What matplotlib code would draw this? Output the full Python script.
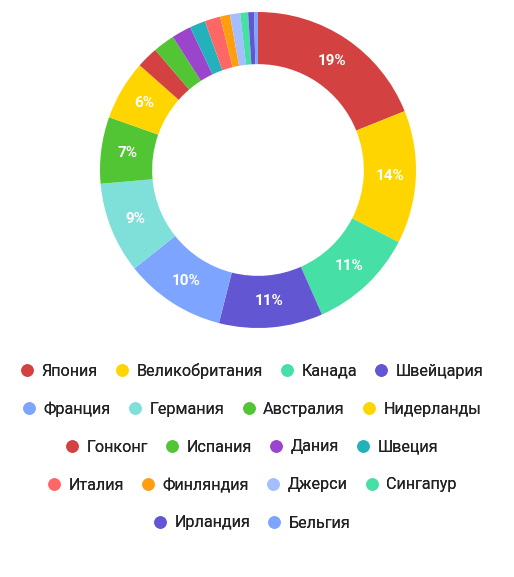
import matplotlib
matplotlib.use("Agg")
import matplotlib.pyplot as plt
from matplotlib.lines import Line2D

# data: share of each country, %
countries = ["Япония", "Великобритания", "Канада", "Швейцария",
             "Франция", "Германия", "Австралия", "Нидерланды",
             "Гонконг", "Испания", "Дания", "Швеция",
             "Италия", "Финляндия", "Джерси", "Сингапур",
             "Ирландия", "Бельгия"]
shares = [18.9, 13.6, 10.8, 10.6,
          10.3, 9.3, 6.8, 6.1,
          2.2, 2.2, 2.0, 1.6,
          1.6, 1.0, 1.05, 0.8,
          0.6, 0.4]
colors = ["#D44141", "#FFD500", "#46DFA5", "#6356D3",
          "#7DA4FF", "#7FE0DA", "#52C535", "#FFD500",
          "#D44141", "#52C535", "#9A45CB", "#23B1BC",
          "#FF6766", "#FF9F10", "#A5BEFF", "#46DFA5",
          "#6356D3", "#7DA4FF"]
legend_rows = [4, 4, 4, 4, 2]

plt.rcParams['font.family'] = ['Roboto', 'DejaVu Sans']

W, H = 514, 577
fig = plt.figure(figsize=(W / 100, H / 100), dpi=100)

# pie centre (258,170) px, outer radius 158 px
cx, cy, r = 258, 170, 158
ax = fig.add_axes([(cx - r) / W, (H - cy - r) / H, 2 * r / W, 2 * r / H])

wedges, texts, autotexts = ax.pie(
    shares, colors=colors, startangle=90, counterclock=False,
    radius=1, wedgeprops=dict(width=0.33, linewidth=0),
    autopct=lambda p: f"{p:.0f}%" if p >= 5 else "",
    pctdistance=0.835,
    textprops=dict(color="white", fontsize=11, fontweight="bold"))
ax.set_xlim(-1, 1)
ax.set_ylim(-1, 1)
ax.set_aspect("equal")
ax.axis("off")

# legend, centred rows
row_y = [371, 409, 447, 485, 523]
start = 0
for n, y in zip(legend_rows, row_y):
    idx = range(start, start + n)
    handles = [Line2D([], [], linestyle="none", marker="o", markersize=9,
                      markerfacecolor=colors[i], markeredgewidth=0)
               for i in idx]
    labels = [countries[i] for i in idx]
    leg = fig.legend(handles, labels, loc="center",
                     bbox_to_anchor=(252 / W, 1 - y / H), ncol=n,
                     frameon=False, fontsize=11.6, handlelength=0.8,
                     handletextpad=0.5, columnspacing=1.1,
                     labelcolor="#222222")
    fig.add_artist(leg)
    start += n

fig.savefig("out.png", dpi=100)
